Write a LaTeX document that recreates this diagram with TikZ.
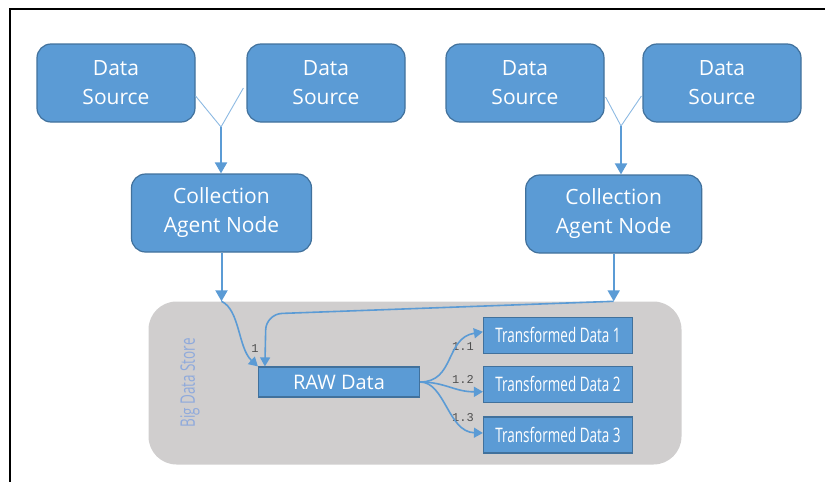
\documentclass[tikz,border=0pt]{standalone}
\usepackage{fontspec}
\setmainfont{Open Sans}
\newfontfamily\narrowfont{Open Sans}[FakeStretch=0.675]
\newfontfamily\tagfont{Liberation Mono}
\usetikzlibrary{arrows.meta,positioning,calc}
\definecolor{boxblue}{HTML}{5B9BD5}
\definecolor{boxedge}{HTML}{41719C}
\definecolor{storegrey}{HTML}{D0CECE}
\definecolor{storetext}{HTML}{8FAADC}
\definecolor{taggrey}{HTML}{505050}

\tikzset{
  source/.style={draw=boxedge,fill=boxblue,line width=1.2pt,rounded corners=14pt,text=white,align=center,
    minimum width=158pt,minimum height=78pt,font=\fontsize{21}{29}\selectfont},
  agent/.style={source,minimum width=180pt},
  stage/.style={draw=boxedge,fill=boxblue,line width=1.2pt,text=white,inner sep=0pt},
  feed/.style={boxblue!70!white,line width=0.9pt},
  flow/.style={boxblue,line width=2pt,-{Triangle[width=12pt,length=11pt]}},
  split/.style={boxblue,line width=1.6pt,-{Triangle[width=10pt,length=9pt]}},
  tag/.style={text=taggrey,font=\tagfont\fontsize{12}{12}\selectfont,inner sep=0pt}
}

\begin{document}
\begin{tikzpicture}[x=1pt,y=-1pt]
\useasboundingbox (0,0) rectangle (825,482);
\draw[line width=2pt] (10,482) |- (825,9);

% store backdrop
\node[fill=storegrey,rounded corners=28pt,minimum width=533pt,minimum height=163pt,inner sep=0pt] (store) at (415,383) {};
\node[rotate=90,text=storetext,font=\narrowfont\fontsize{20}{20}\selectfont] (storename) at (190,383) {Big Data Store};

% sources and agents
\foreach \x/\n in {116/ds1,326/ds2,525/ds3,722/ds4}
  \node[source] (\n) at (\x,83) {Data\\Source};
\node[agent] (ca1) at (221.5,213) {Collection\\Agent Node};
\node[agent,minimum width=176pt] (ca2) at (613.7,214) {Collection\\Agent Node};

% stages in the store
\node[stage,minimum width=161pt,minimum height=30pt,font=\fontsize{20}{20}\selectfont] (raw) at (339,382) {RAW Data};
\foreach \i/\y in {1/335.3,2/384.2,3/435}
  \node[stage,minimum width=149pt,minimum height=36pt,font=\narrowfont\fontsize{20}{20}\selectfont] (td\i) at (558,\y) {Transformed Data \i};

\coordinate (j1) at (221,127);
\draw[feed] ($(ds1.east)+(0,13)$) -- (j1) -- ($(ds2.west)+(-3,5)$);
\draw[flow] (j1) -- (j1 |- ca1.north);
\coordinate (j2) at (621,126);
\draw[feed] ($(ds3.east)+(1,14)$) -- (j2) -- ($(ds4.west)+(-1,13)$);
\draw[flow] (j2) -- (j2 |- ca2.north);

\coordinate (in1) at (ca1.south |- store.north);
\coordinate (in2) at (ca2.south |- store.north);
\draw[flow] (ca1.south) -- (in1);
\draw[flow] (ca2.south) -- (in2);
\draw[split] (in1) .. controls (240,310) and (238,348) .. (raw.north west);
\draw[split,rounded corners=16pt] (in2) -- (266,314) -- ([xshift=7pt]raw.north west);
\node[tag] (tag1) at (255,349) {1};

\node[tag] (tag11) at (463,347) {1.1};
\node[tag] (tag12) at (463,379) {1.2};
\node[tag] (tag13) at (463,418) {1.3};
\draw[split] (raw.east) .. controls (455,382) and (445,338) .. ([yshift=3.5pt]td1.west);
\draw[split] (raw.east) .. controls (445,382) and (455,392) .. ([yshift=-7.5pt]td2.west);
\draw[split] (raw.east) .. controls (445,382) and (448,432) .. ([yshift=2pt]td3.west);
\end{tikzpicture}
\end{document}
